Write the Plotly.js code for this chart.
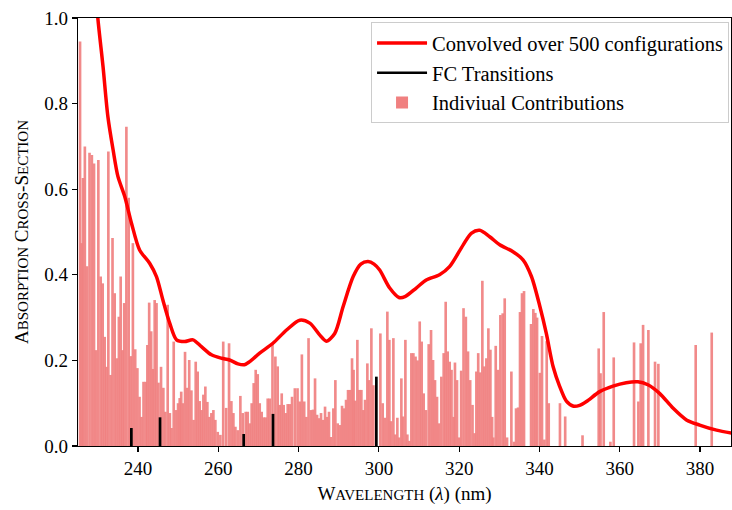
<!DOCTYPE html>
<html>
<head>
<meta charset="utf-8">
<script src="https://cdn.plot.ly/plotly-3.0.1.min.js"></script>
<style>
  html, body { margin: 0; padding: 0; background: #ffffff; }
  #chart { width: 732px; height: 510px; }
</style>
</head>
<body>
<div id="chart"></div>
<script>
// Convolved absorption spectrum (nm, cross-section)
const curveX = [225.0, 226.5, 228.0, 229.2, 230.0, 231.3, 232.5, 233.8, 235.0, 236.7, 238.4, 240.4,
  242.9, 244.6, 246.2, 247.9, 249.6, 251.6, 253.7, 255.8, 258.3, 260.8, 262.8, 264.9,
  266.5, 267.8, 270.3, 273.6, 277.0, 280.3, 282.8, 285.3, 286.9, 289.0, 291.1, 293.6, 295.5,
  297.3, 298.8, 300.2, 302.7, 305.0, 306.5, 309.3, 311.8, 315.1, 317.6, 321.0, 323.0, 325.1,
  327.6, 330.1, 333.4, 335.9, 338.0, 340.1, 341.7, 343.4, 345.0, 346.7, 348.5, 350.0, 351.7,
  355.0, 358.3, 361.6, 364.5, 367.0, 369.9, 373.3, 376.6, 379.9, 384.1, 388.0];
const curveY = [1.75, 1.5, 1.28, 1.1, 1.0, 0.886, 0.77, 0.692, 0.63, 0.583, 0.52, 0.458,
  0.427, 0.396, 0.341, 0.287, 0.248, 0.244, 0.248, 0.232, 0.213, 0.205, 0.201, 0.192,
  0.19, 0.197, 0.217, 0.24, 0.271, 0.294, 0.287, 0.259, 0.245, 0.263, 0.326, 0.396, 0.425,
  0.431, 0.425, 0.411, 0.369, 0.347, 0.349, 0.369, 0.388, 0.40, 0.419, 0.47, 0.497, 0.504,
  0.489, 0.47, 0.454, 0.435, 0.396, 0.326, 0.263, 0.185, 0.14, 0.105, 0.093, 0.095, 0.104,
  0.127, 0.14, 0.148, 0.15, 0.143, 0.123, 0.088, 0.061, 0.049, 0.037, 0.030];

// Franck-Condon transitions
const fcX = [238.35, 245.49, 266.33, 273.63, 299.37];
const fcY = [0.042, 0.067, 0.028, 0.075, 0.162];

// Individual configuration contributions
const barX = [225.57, 225.95, 226.3, 226.77, 227.31, 227.93, 228.51, 229.05, 229.55, 230.13,
  230.71, 231.21, 231.71, 232.13, 232.62, 233.16, 233.66, 234.2, 234.74, 235.24, 235.69,
  236.15, 236.57, 237.11, 237.69, 238.19, 238.73, 239.31, 239.85, 240.39, 240.88, 241.38,
  241.92, 242.34, 242.79, 243.29, 243.71, 244.16, 244.62, 245.1,
  245.74, 246.32, 246.82, 247.40, 247.94, 248.36, 248.90, 249.48, 249.98, 250.39, 250.77,
  251.18, 251.72, 252.26, 252.76, 253.3, 253.84, 254.38, 254.87, 255.37, 255.83, 256.29,
  256.78, 257.28, 257.78, 258.28, 258.78, 259.27, 259.86, 260.52, 261.23, 261.97, 262.68,
  263.26, 263.76, 264.26, 264.84, 265.5, 266.08,
  266.83, 267.33, 267.83, 268.32, 268.82, 269.32, 269.82, 270.32, 270.81, 271.31, 271.81,
  272.31, 272.81, 273.5, 274.22, 274.8, 275.3, 275.8, 276.29, 276.79, 277.29, 277.79,
  278.37, 279.07, 279.74, 280.28, 280.82, 281.4, 281.94, 282.48, 283.06, 283.6, 284.1,
  284.6, 285.09, 285.59, 286.09, 286.59, 287.09, 287.58, 288.08, 288.66,
  289.16, 289.74, 290.32, 290.82, 291.32, 291.82, 292.32, 292.81, 293.31, 293.7, 294.1,
  294.64, 295.14, 295.64, 296.14, 296.55, 297.13, 297.55, 298.13, 298.63, 300.37, 300.95,
  301.53, 302.11, 302.61, 303.03, 303.61, 304.1, 304.6, 305.06, 305.6, 306.01, 306.6,
  307.09, 307.59, 308.09, 308.59, 309.13, 309.63, 310.17, 310.66, 311.16, 311.74, 312.41,
  312.99, 313.49, 313.98, 314.48, 314.98, 315.56, 316.14, 316.64, 317.14, 317.64, 318.09,
  318.59, 318.95, 319.46, 319.96, 320.5, 321.08, 321.66, 322.2, 322.74, 323.32, 323.82,
  324.28, 324.74, 325.23, 325.77, 326.27, 326.77, 327.27, 327.77, 328.2, 328.51, 329.1,
  329.68, 330.26, 330.84, 331.34, 331.92, 333.0, 333.66, 334.16, 334.66, 335.15, 335.65,
  336.15, 337.9, 338.47, 338.97, 339.4, 340.1, 340.63, 341.22, 341.8, 342.3, 345.1, 346.4,
  350.72, 354.75, 355.2, 356.0, 357.66, 358.49, 363.55, 364.63, 365.21, 365.8, 367.12,
  368.78, 369.61, 378.91, 382.9];
const barY = [0.945, 0.474, 0.626, 0.70, 0.42, 0.685, 0.68, 0.66, 0.224, 0.668,
  0.396, 0.38, 0.255, 0.185, 0.688, 0.166, 0.486, 0.357, 0.205, 0.302, 0.396,
  0.224, 0.334, 0.746, 0.58, 0.21, 0.474, 0.226, 0.182, 0.115, 0.068, 0.15,
  0.15, 0.236, 0.335, 0.268, 0.18, 0.341, 0.334, 0.148,
  0.185, 0.136, 0.08, 0.33, 0.077, 0.042, 0.244, 0.084, 0.1, 0.112, 0.127,
  0.1, 0.22, 0.136, 0.201, 0.13, 0.061, 0.197, 0.174, 0.105, 0.084, 0.12,
  0.139, 0.103, 0.068, 0.077, 0.084, 0.061, 0.033, 0.026, 0.244, 0.089, 0.24,
  0.105, 0.077, 0.045, 0.037, 0.117, 0.077,
  0.08, 0.08, 0.053, 0.1, 0.147, 0.178, 0.168, 0.1, 0.08, 0.067, 0.067,
  0.111, 0.111, 0.24, 0.209, 0.186, 0.096, 0.123, 0.096, 0.077, 0.098, 0.098,
  0.115, 0.135, 0.135, 0.104, 0.214, 0.104, 0.068, 0.252, 0.084, 0.085, 0.158,
  0.073, 0.065, 0.077, 0.061, 0.092, 0.068, 0.08, 0.021, 0.088, 0.154,
  0.053, 0.049, 0.094, 0.088, 0.108, 0.131, 0.131, 0.205, 0.178, 0.106, 0.248,
  0.131, 0.131, 0.084, 0.108, 0.193, 0.154, 0.275, 0.142, 0.263, 0.1, 0.066,
  0.314, 0.248, 0.058, 0.252, 0.027, 0.066, 0.02, 0.158, 0.069, 0.248, 0.027,
  0.012, 0.217, 0.217, 0.209, 0.2, 0.291, 0.244, 0.123, 0.084, 0.238, 0.271,
  0.201, 0.154, 0.115, 0.053, 0.162, 0.217, 0.337, 0.221, 0.197, 0.178, 0.068,
  0.195, 0.154, 0.02, 0.176, 0.322, 0.302, 0.221, 0.154, 0.096, 0.03, 0.174,
  0.217, 0.172, 0.386, 0.186, 0.205, 0.275, 0.225, 0.068, 0.02, 0.234, 0.178,
  0.306, 0.31, 0.345, 0.02, 0.174, 0.01, 0.088, 0.09, 0.313, 0.357, 0.362,
  0.285, 0.32, 0.311, 0.3, 0.171, 0.257, 0.015, 0.245, 0.1, 0.1, 0.069, 0.025,
  0.228, 0.17, 0.313, 0.01, 0.207, 0.242, 0.104, 0.24, 0.283, 0.271, 0.197,
  0.192, 0.236, 0.265, 0.173];

const serif = '"Liberation Serif", "DejaVu Serif", serif';
const sc = s => '<span style="font-size:15px">' + s + '</span>';

// vertical sticks for the FC transitions, separated by gaps
const fcLineX = [], fcLineY = [];
fcX.forEach((x, i) => { fcLineX.push(x, x, null); fcLineY.push(0, fcY[i], null); });

const traces = [
  {
    type: 'scatter', mode: 'lines', x: curveX, y: curveY,
    name: 'Convolved over 500 configurations',
    line: { color: '#ff0000', width: 3.5, shape: 'spline', smoothing: 0.8 },
    hoverinfo: 'skip'
  },
  {
    type: 'scatter', mode: 'lines', x: fcLineX, y: fcLineY,
    name: 'FC Transitions',
    line: { color: '#000000', width: 2.7 },
    hoverinfo: 'skip'
  },
  {
    type: 'bar', x: barX, y: barY, width: 0.66,
    name: 'Indiviual Contributions',
    marker: { color: '#f08080', opacity: 0.92, line: { width: 0 } },
    hoverinfo: 'skip'
  }
];

const axisCommon = {
  showline: true, mirror: true, linecolor: '#000000', linewidth: 1.2,
  ticks: 'outside', ticklen: 5, tickwidth: 1.2, tickcolor: '#000000',
  showgrid: false, zeroline: false,
  tickfont: { family: serif, size: 19, color: '#000000' }
};

const layout = {
  width: 732, height: 510,
  margin: { l: 78, r: 1, t: 18, b: 64 },
  paper_bgcolor: '#ffffff', plot_bgcolor: '#ffffff',
  font: { family: serif, size: 19, color: '#000000' },
  barmode: 'overlay',
  showlegend: true,
  legend: {
    x: 0.997, y: 0.99, xanchor: 'right', yanchor: 'top',
    bgcolor: '#ffffff', bordercolor: '#cccccc', borderwidth: 1,
    font: { family: serif, size: 20.5, color: '#000000' },
    itemwidth: 50,
    traceorder: 'normal'
  },
  xaxis: Object.assign({}, axisCommon, {
    range: [225.06, 387.7], tick0: 0, dtick: 20,
    title: { text: 'W' + sc('AVELENGTH') + ' (<i>λ</i>) (nm)', font: { family: serif, size: 19 }, standoff: 8 }
  }),
  yaxis: Object.assign({}, axisCommon, {
    range: [0, 1], dtick: 0.2, tickformat: '.1f',
    title: { text: 'A' + sc('BSORPTION') + ' C' + sc('ROSS') + '-S' + sc('ECTION'), font: { family: serif, size: 19 }, standoff: 10 }
  })
};

Plotly.newPlot('chart', traces, layout, { displayModeBar: false, staticPlot: true });
</script>
</body>
</html>
